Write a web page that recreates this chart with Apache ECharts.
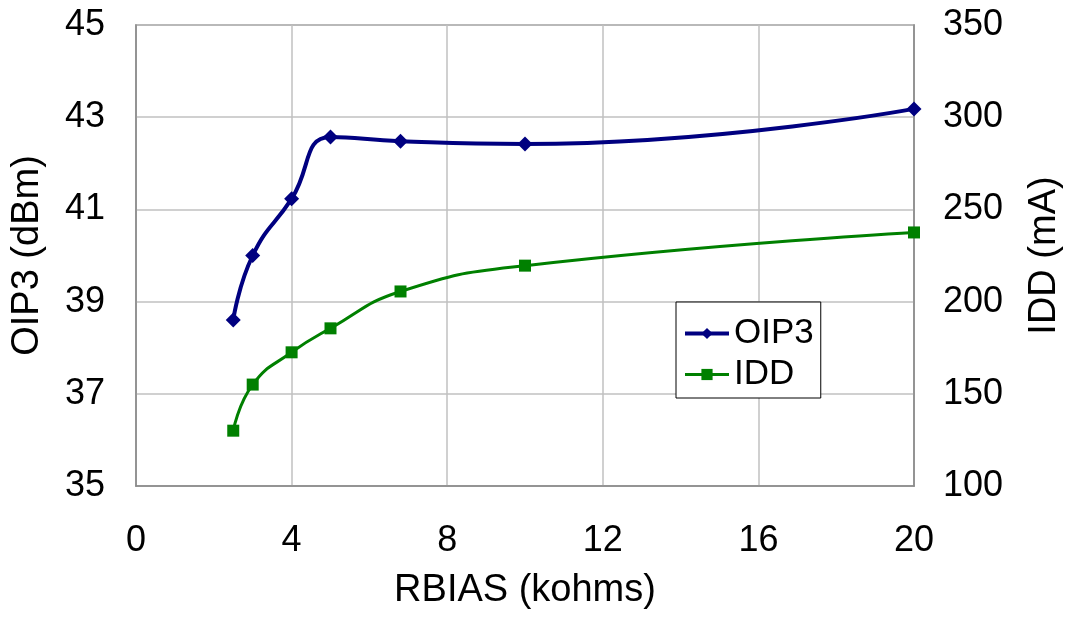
<!DOCTYPE html>
<html>
<head>
<meta charset="utf-8">
<script src="https://cdn.jsdelivr.net/npm/echarts@6/dist/echarts.min.js"></script>
<style>html,body{margin:0;padding:0;background:#fff}#c{width:1067px;height:627px}</style>
</head>
<body>
<div id="c"></div>
<script>
const rbias = [2.5, 3, 4, 5, 6.8, 10, 20];
const oip3 = [38.6, 40.0, 41.23, 42.57, 42.48, 42.42, 43.18];
const idd = [130, 155, 172.5, 185.5, 205.5, 219.5, 237.5];
const xTicks = [0, 4, 8, 12, 16, 20];
const leftTicks = [35, 37, 39, 41, 43, 45];
const rightTicks = [100, 150, 200, 250, 300, 350];

const font = 'Liberation Sans, Arial, sans-serif';
const fs = 36;
const nfs = 38;
const chart = echarts.init(document.getElementById('c'), null, {renderer: 'canvas'});
chart.setOption({
  animation: false,
  backgroundColor: '#fff',
  grid: {left: 136, right: 153, top: 25, bottom: 141, show: true, borderColor: '#888', borderWidth: 1.5,
         containLabel: false, outerBoundsMode: 'none'},
  legend: {
    orient: 'vertical', left: 676, top: 302,
    backgroundColor: '#fff', borderColor: '#000', borderWidth: 1,
    padding: [14, 7, 6, 7], itemGap: 6, itemWidth: 44, itemHeight: 14,
    textStyle: {fontFamily: font, fontSize: 35, color: '#000'},
    data: [
      {name: 'OIP3', lineStyle: {width: 4, color: '#000080'}},
      {name: 'IDD', lineStyle: {width: 3, color: '#008000'}}
    ]
  },
  xAxis: {
    type: 'value', min: 0, max: 20, interval: 4,
    name: 'RBIAS (kohms)', nameLocation: 'middle', nameGap: 86,
    nameTextStyle: {fontFamily: font, fontSize: nfs, color: '#000'},
    axisLine: {show: true, lineStyle: {color: '#888', width: 1.5}},
    axisTick: {show: false},
    axisLabel: {fontFamily: font, fontSize: fs, color: '#000', margin: 37,
      formatter: v => xTicks.includes(v) ? String(v) : ''},
    splitLine: {show: true, lineStyle: {color: '#c0c0c0', width: 1.5}}
  },
  yAxis: [{
    type: 'value', min: 35, max: 45, interval: 2, position: 'left',
    name: 'OIP3 (dBm)', nameLocation: 'middle', nameGap: 89,
    nameTextStyle: {fontFamily: font, fontSize: nfs, color: '#000'},
    axisLine: {show: true, lineStyle: {color: '#888', width: 1.5}},
    axisTick: {show: false},
    axisLabel: {fontFamily: font, fontSize: fs, color: '#000', margin: 31,
      formatter: v => leftTicks.includes(v) ? String(v) : ''},
    splitLine: {show: true, lineStyle: {color: '#c0c0c0', width: 1.5}}
  }, {
    type: 'value', min: 100, max: 350, interval: 50, position: 'right',
    name: 'IDD (mA)', nameLocation: 'middle', nameGap: 112, nameRotate: 90,
    nameTextStyle: {fontFamily: font, fontSize: nfs, color: '#000'},
    axisLine: {show: true, lineStyle: {color: '#888', width: 1.5}},
    axisTick: {show: false},
    axisLabel: {fontFamily: font, fontSize: fs, color: '#000', margin: 29,
      formatter: v => rightTicks.includes(v) ? String(v) : ''},
    splitLine: {show: false}
  }],
  series: [{
    name: 'OIP3', type: 'line', yAxisIndex: 0, smooth: 0.5,
    data: rbias.map((x, i) => [x, oip3[i]]),
    symbol: 'diamond', symbolSize: 15,
    lineStyle: {color: '#000080', width: 4},
    itemStyle: {color: '#000080'}
  }, {
    name: 'IDD', type: 'line', yAxisIndex: 1, smooth: 0.5,
    data: rbias.map((x, i) => [x, idd[i]]),
    symbol: 'rect', symbolSize: 12,
    lineStyle: {color: '#008000', width: 3},
    itemStyle: {color: '#008000'}
  }]
});
</script>
</body>
</html>
